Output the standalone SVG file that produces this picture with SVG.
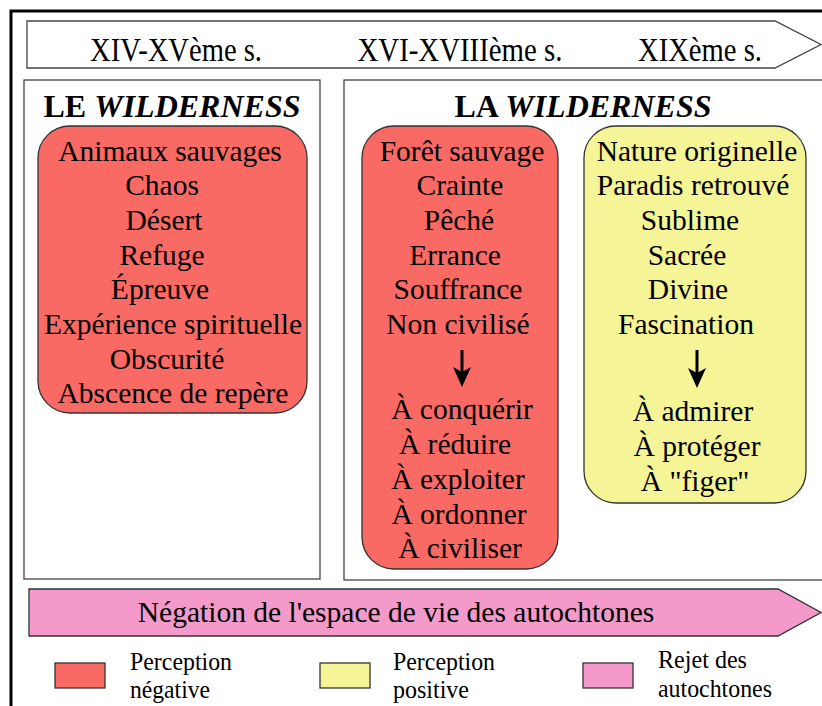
<svg xmlns="http://www.w3.org/2000/svg" width="822" height="706" viewBox="0 0 822 706">
<style>
text{font-family:'Liberation Serif','DejaVu Serif',serif;fill:#000;text-anchor:middle}
.t{font-size:33px}
.b{font-size:29.5px}
.h{font-size:32px;font-weight:bold}
.l{font-size:26px;text-anchor:start}
.frame{fill:#fff;stroke:#444;stroke-width:1.3}
.neg{fill:#F96A64;stroke:#333;stroke-width:1.3}
.pos{fill:#F5F497;stroke:#333;stroke-width:1.3}
.rej{fill:#F39ACA;stroke:#333;stroke-width:1.3}
.arr{stroke:#000;stroke-width:3;fill:none}
</style>
<defs>
<marker id="ah" viewBox="0 0 20 20" refX="5" refY="10" markerWidth="20" markerHeight="20" orient="auto" markerUnits="userSpaceOnUse">
<path d="M0,1 L20,10 L0,19 L5,10 Z" fill="#000"/>
</marker>
</defs>
<rect width="822" height="706" fill="#fff"/>
<path d="M11,706 V11 H822" fill="none" stroke="#000" stroke-width="3"/>

<g id="timeline">
<path class="frame" d="M27,21 H775 L821,44.5 L775,68 H27 Z"/>
<text class="t" x="176" y="61" textLength="172" lengthAdjust="spacingAndGlyphs">XIV-XVème s.</text>
<text class="t" x="460" y="61" textLength="205" lengthAdjust="spacingAndGlyphs">XVI-XVIIIème s.</text>
<text class="t" x="700" y="61" textLength="124" lengthAdjust="spacingAndGlyphs">XIXème s.</text>
</g>

<g id="le-wilderness">
<rect class="frame" x="24" y="80" width="296" height="499"/>
<text class="h" x="172" y="117">LE <tspan font-style="italic">WILDERNESS</tspan></text>
</g>

<g id="la-wilderness">
<rect class="frame" x="344" y="80" width="490" height="500"/>
<text class="h" x="583" y="117">LA <tspan font-style="italic">WILDERNESS</tspan></text>
</g>

<g id="negatif-xiv">
<rect class="neg" x="38" y="126" width="269" height="287" rx="32"/>
<text class="b" x="170" y="161">Animaux sauvages</text>
<text class="b" x="162" y="195">Chaos</text>
<text class="b" x="164" y="230">Désert</text>
<text class="b" x="162" y="265">Refuge</text>
<text class="b" x="160" y="299">Épreuve</text>
<text class="b" x="173" y="334">Expérience spirituelle</text>
<text class="b" x="167" y="369">Obscurité</text>
<text class="b" x="173" y="403">Abscence de repère</text>
</g>

<g id="negatif-xvi">
<rect class="neg" x="362" y="126" width="196" height="443" rx="32"/>
<text class="b" x="462" y="161">Forêt sauvage</text>
<text class="b" x="460" y="195">Crainte</text>
<text class="b" x="459" y="230">Pêché</text>
<text class="b" x="455" y="265">Errance</text>
<text class="b" x="458" y="299">Souffrance</text>
<text class="b" x="458" y="334">Non civilisé</text>
<text class="b" x="462" y="419">À conquérir</text>
<text class="b" x="455" y="454">À réduire</text>
<text class="b" x="458" y="489">À exploiter</text>
<text class="b" x="459" y="524">À ordonner</text>
<text class="b" x="460" y="558">À civiliser</text>
</g>

<g id="positif-xix">
<rect class="pos" x="584" y="126" width="222" height="377" rx="32"/>
<text class="b" x="697" y="161">Nature originelle</text>
<text class="b" x="693" y="195">Paradis retrouvé</text>
<text class="b" x="690" y="230">Sublime</text>
<text class="b" x="687" y="265">Sacrée</text>
<text class="b" x="688" y="299">Divine</text>
<text class="b" x="686" y="334">Fascination</text>
<text class="b" x="693" y="421">À admirer</text>
<text class="b" x="697" y="456">À protéger</text>
<text class="b" x="695" y="491">À "figer"</text>
</g>

<g id="connectors">
<line class="arr" x1="462" y1="350" x2="462" y2="372" marker-end="url(#ah)"/>
<line class="arr" x1="697" y1="350" x2="697" y2="373" marker-end="url(#ah)"/>
</g>

<g id="rejet">
<path class="rej" d="M29,589 H778 L821,612.5 L778,636 H29 Z"/>
<text class="b" x="396" y="622">Négation de l'espace de vie des autochtones</text>
</g>

<g id="legende">
<rect class="neg" x="55" y="663" width="50" height="25"/>
<text class="l" x="130" y="670" textLength="102" lengthAdjust="spacingAndGlyphs">Perception</text>
<text class="l" x="130" y="698" textLength="80" lengthAdjust="spacingAndGlyphs">négative</text>
<rect class="pos" x="320" y="663" width="50" height="25"/>
<text class="l" x="393" y="670" textLength="102" lengthAdjust="spacingAndGlyphs">Perception</text>
<text class="l" x="393" y="698" textLength="76" lengthAdjust="spacingAndGlyphs">positive</text>
<rect class="rej" x="583" y="663" width="50" height="25"/>
<text class="l" x="658" y="668" textLength="89" lengthAdjust="spacingAndGlyphs">Rejet des</text>
<text class="l" x="658" y="697" textLength="114" lengthAdjust="spacingAndGlyphs">autochtones</text>
</g>
</svg>
